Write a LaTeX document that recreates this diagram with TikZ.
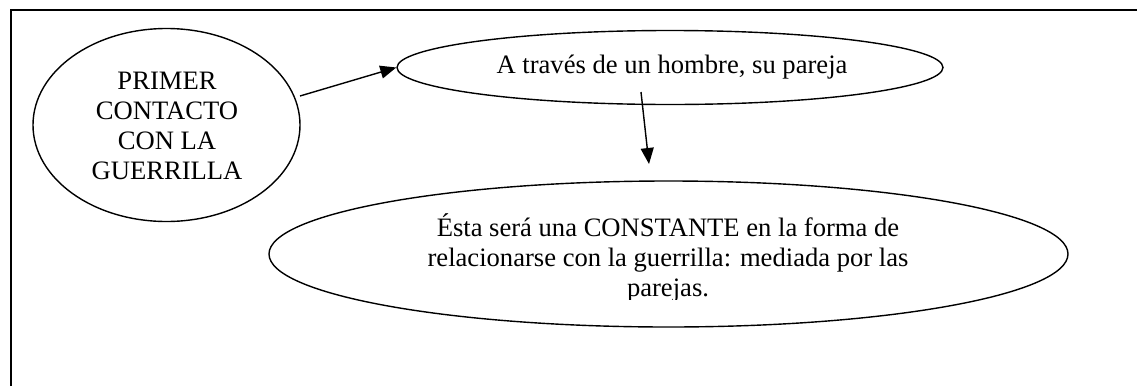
\documentclass[tikz,border=0pt]{standalone}
\usepackage{fontspec}
\setmainfont{Liberation Serif}
\usetikzlibrary{shapes.geometric,arrows.meta}
\begin{document}
\begin{tikzpicture}[x=1pt,y=-1pt,
  bubble/.style={ellipse,draw,line width=1.4pt,inner sep=0pt},
  lbl/.style={font=\fontsize{26.6}{30}\selectfont,align=center,inner sep=0pt},
  link/.style={line width=1.4pt,-{Triangle[length=16pt,width=13pt]}},
  frameline/.style={line width=2pt}]
\useasboundingbox (0,0) rectangle (1137,386);
\fill[white] (0,0) rectangle (1137,386);
% frame (clipped by the page at right and bottom)
\coordinate (fb) at (10.5,386);
\coordinate (fc) at (10.5,10);
\coordinate (fr) at (1137,10);
\draw[frameline] (fb) -- (fc) -- (fr);
% ellipses
\node[bubble,minimum width=267pt,minimum height=193pt] (e1) at (166.5,125) {};
\node[bubble,minimum width=546pt,minimum height=74pt] (e2) at (670,67.5) {};
\node[bubble,minimum width=799pt,minimum height=146pt] (e3) at (668.5,254) {};
% texts
\node[lbl] (t1) at (167,126) {PRIMER\\CONTACTO\\CON LA\\GUERRILLA};
\node[lbl,anchor=base] (t2) at (672,73) {A través de un hombre, su pareja};
\begin{scope}
\clip (260,190) rectangle (1080,299);
\node[lbl] (t3) at (668,258) {Ésta será una CONSTANTE en la forma de\\relacionarse con la guerrilla: mediada por las\\parejas.};
\end{scope}
% connectors
\coordinate (a1) at (300,96);
\draw[link] (a1) -- (e2.west);
\coordinate (a2s) at (641,92);
\coordinate (a2e) at (649,164);
\draw[link] (a2s) -- (a2e);
\end{tikzpicture}
\end{document}
